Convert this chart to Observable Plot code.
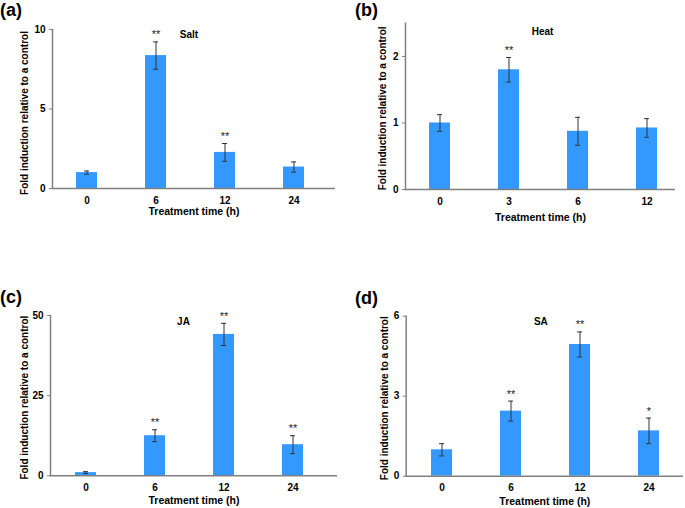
<!DOCTYPE html>
<html>
<head>
<meta charset="utf-8">
<script src="https://cdn.jsdelivr.net/npm/d3@7"></script>
<script src="https://cdn.jsdelivr.net/npm/@observablehq/plot@0.6"></script>
<style>
  html, body { margin: 0; padding: 0; background: #fff; }
  #wrap { position: relative; width: 685px; height: 508px; overflow: hidden; font-family: "Liberation Sans", Arial, sans-serif; }
  .panel { position: absolute; }
  .tag { position: absolute; font-size: 18px; font-weight: bold; line-height: 20px; color: #000; }
</style>
</head>
<body>
<div id="wrap"></div>
<script>
// ---- data ----
const timesA = ["0", "6", "12", "24"];
const meanA = [1.0, 8.36, 2.27, 1.35];
const errA = [0.1, 0.86, 0.56, 0.32];
const sigA = ["", "**", "**", ""];
const ticksA = [0, 5, 10];

const timesB = ["0", "3", "6", "12"];
const meanB = [1.0, 1.80, 0.875, 0.925];
const errB = [0.125, 0.185, 0.21, 0.14];
const sigB = ["", "**", "", ""];
const ticksB = [0, 1, 2];

const timesC = ["0", "6", "12", "24"];
const meanC = [1.0, 12.5, 44.1, 9.7];
const errC = [0.3, 1.85, 3.45, 2.8];
const sigC = ["", "**", "**", "**"];
const ticksC = [0, 25, 50];

const timesD = ["0", "6", "12", "24"];
const meanD = [0.99, 2.44, 4.94, 1.70];
const errD = [0.23, 0.375, 0.47, 0.48];
const sigD = ["", "**", "**", "*"];
const ticksD = [0, 3, 6];

const panelTags = ["(a)", "(b)", "(c)", "(d)"];
const treatments = ["Salt", "Heat", "JA", "SA"];
const yLabel = "Fold induction relative to a control";
const xLabel = "Treatment time (h)";

const BAR = "#3399ff";
const AXIS = "#808080";
const FONT = "'Liberation Sans', Arial, sans-serif";

function panel(cfg) {
  const rows = cfg.times.map((t, i) => ({
    t, m: cfg.mean[i], lo: cfg.mean[i] - cfg.err[i], hi: cfg.mean[i] + cfg.err[i], s: cfg.sig[i]
  }));
  return Plot.plot({
    width: cfg.width, height: cfg.height,
    marginLeft: cfg.ml, marginRight: cfg.mr, marginTop: cfg.mt, marginBottom: cfg.mb,
    style: {fontFamily: FONT, fontSize: "10px", fontWeight: "bold", background: "white", overflow: "visible"},
    x: {domain: cfg.times, range: cfg.xr, paddingInner: 0.69, paddingOuter: 0.345, axis: null},
    y: {domain: cfg.ydom, axis: null},
    marks: [
      Plot.barY(rows, {x: "t", y: "m", fill: BAR}),
      Plot.ruleX(rows, {x: "t", y1: "lo", y2: "hi", stroke: "#333", strokeWidth: 1}),
      Plot.tickY(rows, {x: "t", y: "hi", stroke: "#333", strokeWidth: 1, inset: 8}),
      Plot.tickY(rows, {x: "t", y: "lo", stroke: "#333", strokeWidth: 1, inset: 8}),
      Plot.text(rows, {x: "t", y: "hi", text: "s", dy: -7, fontSize: 11, fill: "#222", fontWeight: "normal"}),
      Plot.ruleY([0], {stroke: AXIS, strokeWidth: 1.5}),
      Plot.frame({anchor: "left", stroke: AXIS, strokeWidth: 1.5}),
      Plot.axisY({ticks: cfg.ticks, tickSize: 3, tickPadding: 4, stroke: AXIS, fill: "black", label: null, tickFormat: d => String(d), fontSize: 10}),
      Plot.axisX({tickSize: 0, tickPadding: 8, label: null, fill: "black", fontSize: 10}),
      Plot.text([xLabel], {text: d => d, frameAnchor: "bottom", lineAnchor: "middle", textAnchor: "middle", dy: cfg.xlDy, fontSize: 10.5, fill: "black"}),
      Plot.text([yLabel], {text: d => d, frameAnchor: "left", lineAnchor: "middle", textAnchor: "middle", rotate: -90, dx: cfg.ylDx, dy: cfg.ylDy, fontSize: 10, fill: "black"}),
      Plot.text([cfg.name], {text: d => d, frameAnchor: "top", lineAnchor: "middle", textAnchor: "middle", dx: cfg.tDx, dy: cfg.tDy, fontSize: 10, fill: "black"})
    ]
  });
}

const wrap = document.getElementById("wrap");
const cfgs = [
  {left: 0, top: 0, width: 340, height: 230, ml: 52, mr: 5, mt: 29, mb: 42, xr: [52, 329.2],
   times: timesA, mean: meanA, err: errA, sig: sigA, ticks: ticksA, ydom: [0, 10],
   xlDy: 23.5, ylDx: -28, ylDy: 4, tDx: -5, tDy: 5, name: treatments[0], tag: panelTags[0], tagL: 0, tagT: 0},
  {left: 340, top: 0, width: 345, height: 230, ml: 65, mr: 10, mt: 22.7, mb: 41, xr: [65, 341],
   times: timesB, mean: meanB, err: errB, sig: sigB, ticks: ticksB, ydom: [0, 2.5],
   xlDy: 28, ylDx: -23, ylDy: 2, tDx: 2, tDy: 9, name: treatments[1], tag: panelTags[1], tagL: 355, tagT: 0},
  {left: 0, top: 280, width: 340, height: 228, ml: 50, mr: 3, mt: 35, mb: 32.7, xr: [51, 328],
   times: timesC, mean: meanC, err: errC, sig: sigC, ticks: ticksC, ydom: [0, 50],
   xlDy: 24.7, ylDx: -25.5, ylDy: 2, tDx: -10.5, tDy: 6, name: treatments[2], tag: panelTags[2], tagL: 0, tagT: 287},
  {left: 340, top: 280, width: 345, height: 228, ml: 65.7, mr: 2, mt: 35.7, mb: 32.3, xr: [65.7, 343.7],
   times: timesD, mean: meanD, err: errD, sig: sigD, ticks: ticksD, ydom: [0, 6],
   xlDy: 25, ylDx: -21.7, ylDy: 2, tDx: -4, tDy: 6, name: treatments[3], tag: panelTags[3], tagL: 355, tagT: 288}
];

for (const cfg of cfgs) {
  const div = document.createElement("div");
  div.className = "panel";
  div.style.left = cfg.left + "px";
  div.style.top = cfg.top + "px";
  div.appendChild(panel(cfg));
  wrap.appendChild(div);
}
for (const cfg of cfgs) {
  const tag = document.createElement("div");
  tag.className = "tag";
  tag.style.left = cfg.tagL + "px";
  tag.style.top = cfg.tagT + "px";
  tag.textContent = cfg.tag;
  wrap.appendChild(tag);
}
</script>
</body>
</html>
